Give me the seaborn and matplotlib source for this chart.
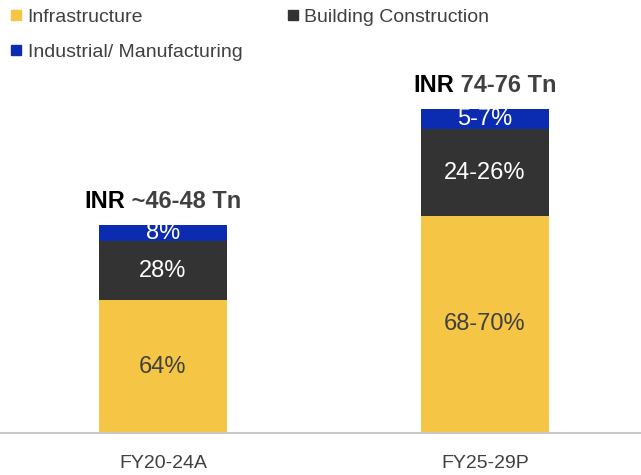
import matplotlib
matplotlib.use("Agg")
import matplotlib.pyplot as plt
import seaborn as sns
import pandas as pd
import numpy as np
from matplotlib.lines import Line2D

periods = ["FY20-24A", "FY25-29P"]
infrastructure = [30.0, 49.0]
building = [13.3, 19.6]
industrial = [3.6, 4.5]
infra_labels = ["64%", "68-70%"]
building_labels = ["28%", "24-26%"]
industrial_labels = ["8%", "5-7%"]
total_values = ["~46-48 Tn", "74-76 Tn"]

colors = {"Infrastructure": "#F5C646", "Building Construction": "#333333",
          "Industrial/ Manufacturing": "#0B2BB0"}

sns.set_style("white")
plt.rcParams['font.family'] = ['Liberation Sans', 'DejaVu Sans']

fig = plt.figure(figsize=(6.41, 4.75), dpi=100)
ax = fig.add_axes([0.0, 42/475, 1.0, (433-60)/475])

df = pd.DataFrame({"period": periods, "infra": infrastructure,
                   "building": building, "industrial": industrial})
df["c2"] = df["infra"] + df["building"]
df["c3"] = df["c2"] + df["industrial"]

sns.barplot(data=df, x="period", y="c3", color=colors["Industrial/ Manufacturing"],
            width=0.4, ax=ax, saturation=1, linewidth=0)
sns.barplot(data=df, x="period", y="c2", color=colors["Building Construction"],
            width=0.4, ax=ax, saturation=1, linewidth=0)
sns.barplot(data=df, x="period", y="infra", color=colors["Infrastructure"],
            width=0.4, ax=ax, saturation=1, linewidth=0)

ax.set_xlim(-163/322, (641-163)/322)
ax.set_ylim(0, 373/4.43)

for i in range(len(periods)):
    y0 = 0
    for val, lab, col in [(infrastructure[i], infra_labels[i], "#404040"),
                          (building[i], building_labels[i], "white"),
                          (industrial[i], industrial_labels[i], "white")]:
        ax.text(i, y0 + val/2, lab, ha="center", va="center", color=col, fontsize=17)
        y0 += val

for s in ["left", "right", "top"]:
    ax.spines[s].set_visible(False)
ax.spines["bottom"].set_color("#C8C8C8")
ax.spines["bottom"].set_linewidth(1.5)
ax.set_yticks([])
ax.set_xlabel("")
ax.set_ylabel("")
ax.tick_params(axis="x", length=0, pad=16, labelsize=14, labelcolor="#404040")

# total labels: "INR" in black, value in dark gray, both bold, centred over bar
fig.canvas.draw()
renderer = fig.canvas.get_renderer()
for i in range(len(periods)):
    top = infrastructure[i] + building[i] + industrial[i]
    t1 = ax.annotate("INR", (i, top), xytext=(0, 9), textcoords="offset points",
                     ha="left", va="bottom", fontsize=17, fontweight="bold", color="black")
    t2 = ax.annotate(" " + total_values[i], (i, top), xytext=(0, 9), textcoords="offset points",
                     ha="left", va="bottom", fontsize=17, fontweight="bold", color="#404040")
    w1 = t1.get_window_extent(renderer).width
    w2 = t2.get_window_extent(renderer).width
    total_w = w1 + w2
    px2pt = 72.0 / fig.dpi
    t1.set_position((-total_w / 2 * px2pt, 9))
    t2.set_position((( -total_w / 2 + w1) * px2pt, 9))

order = ["Infrastructure", "Industrial/ Manufacturing", "Building Construction"]
handles = [Line2D([0], [0], marker="s", linestyle="none", markersize=7.5,
                  markerfacecolor=colors[k], markeredgecolor=colors[k]) for k in order]
leg = fig.legend(handles, order, loc="upper left", bbox_to_anchor=(10/641, 1 - 8/475),
                 ncol=2, frameon=False, fontsize=14, handlelength=0.6,
                 handletextpad=0.3, columnspacing=2.3, labelspacing=0.9,
                 borderpad=0.0, borderaxespad=0.0)
for t in leg.get_texts():
    t.set_color("#404040")

fig.savefig("out.png", dpi=100)
